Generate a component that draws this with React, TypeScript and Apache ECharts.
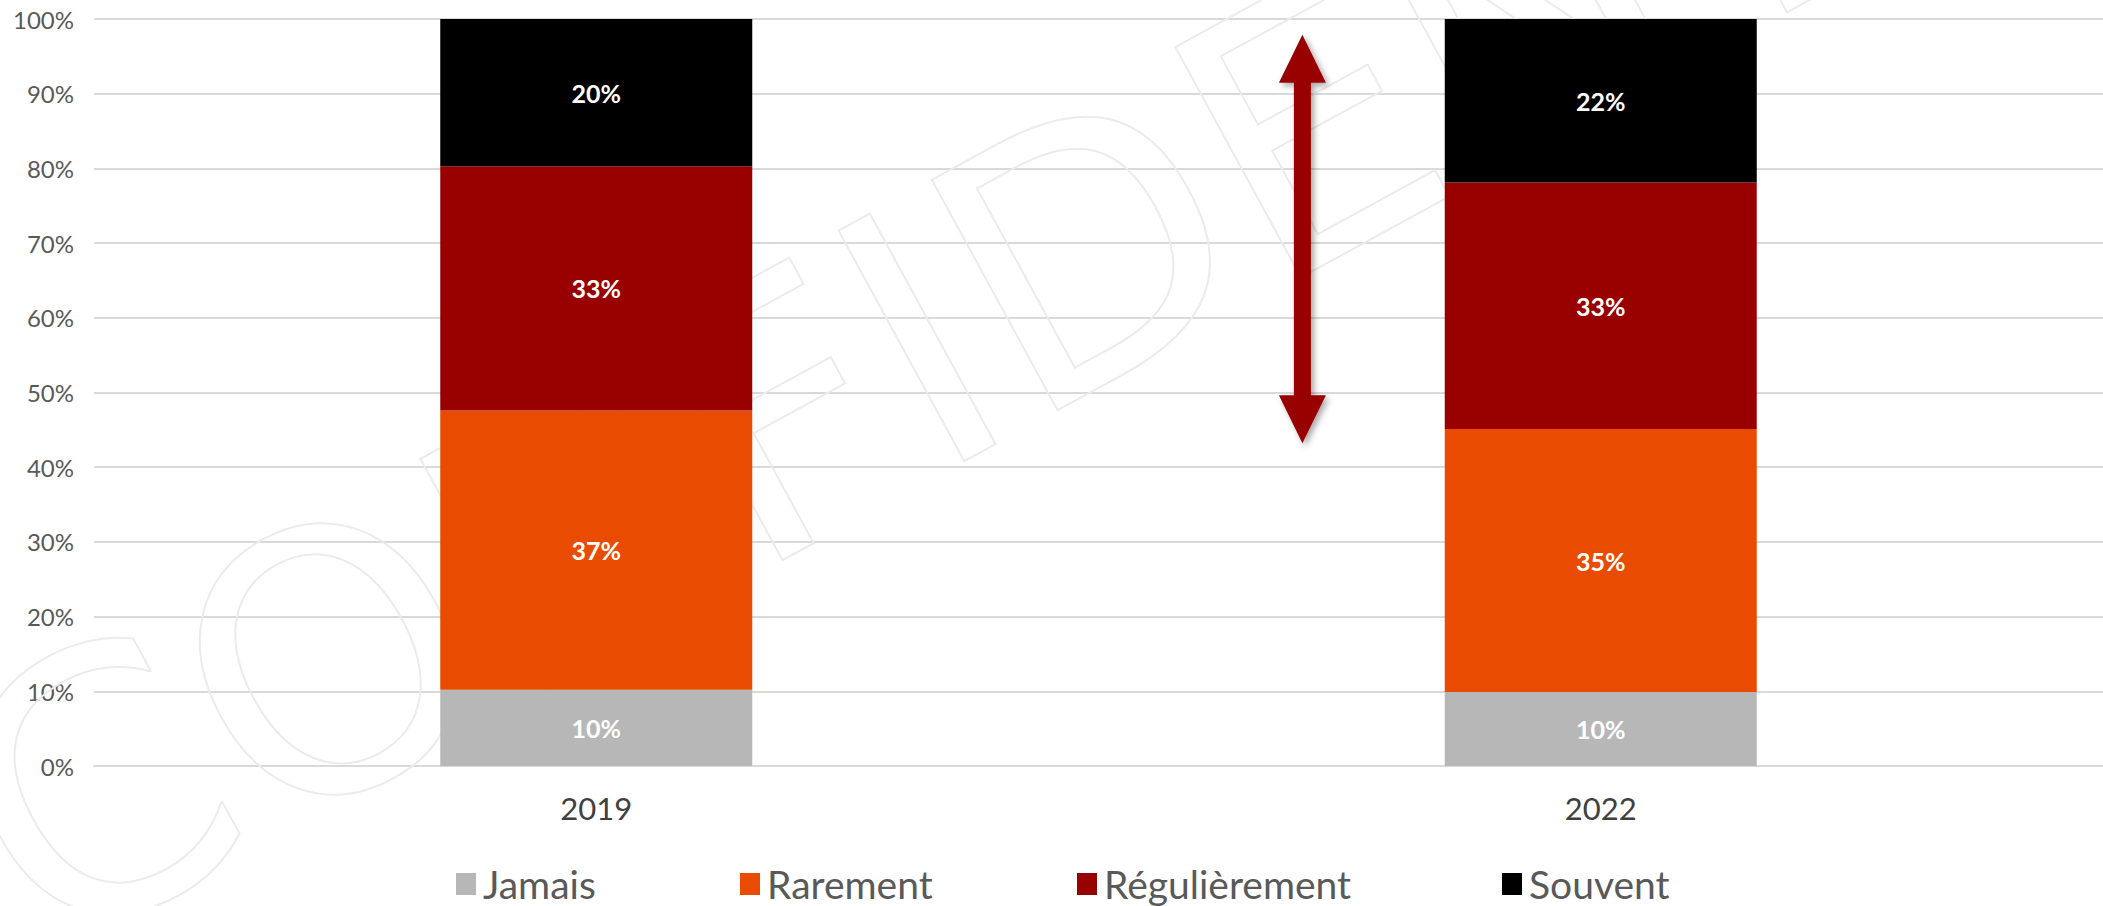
import React, { useEffect, useRef } from "react";
import * as echarts from "echarts";

const categories = ["2019", "2022"];
const seriesNames = ["Jamais", "Rarement", "Régulièrement", "Souvent"];
const jamais = [10.2, 9.9];
const rarement = [37.4, 35.2];
const regulierement = [32.7, 33.0];
const souvent = [19.7, 21.9];
const seriesColors = ["#b7b7b7", "#e94c00", "#990000", "#000000"];
const yTicks = [0, 100, 10];
// arrow annotation endpoints (in % of the value axis)
const arrowTopValue = 97.9;
const arrowBottomValue = 43.2;

const FONT = "Lato, 'Noto Sans', sans-serif";

export default function App() {
  const ref = useRef<HTMLDivElement>(null);
  useEffect(() => {
    if (!ref.current) return;
    const chart = echarts.init(ref.current, undefined, { renderer: "svg" });
    const values = [jamais, rarement, regulierement, souvent];
    const legendLefts = [456, 740, 1077, 1502];
    const option: any = {
      animation: false,
      backgroundColor: "#ffffff",
      textStyle: { fontFamily: FONT },
      grid: { left: 94, right: 0, top: 19, height: 747, containLabel: false },
      legend: seriesNames.map((n, i) => ({
        data: [n],
        left: legendLefts[i],
        top: 864,
        padding: 0,
        itemWidth: 20,
        itemHeight: 22,
        icon: "rect",
        selectedMode: false,
        textStyle: {
          color: "#595959",
          fontSize: 39,
          lineHeight: 40,
          fontFamily: FONT,
          padding: [0, 0, 0, 2],
        },
      })),
      xAxis: {
        type: "category",
        data: categories,
        axisLine: { show: true, lineStyle: { color: "#d9d9d9", width: 2 } },
        axisTick: { show: false },
        axisLabel: { color: "#404040", fontSize: 31, margin: 26, fontFamily: FONT },
      },
      yAxis: {
        type: "value",
        min: yTicks[0],
        max: yTicks[1],
        interval: yTicks[2],
        axisLine: { show: false },
        axisTick: { show: false },
        splitLine: { lineStyle: { color: "#d9d9d9", width: 2 } },
        axisLabel: { color: "#595959", fontSize: 24, margin: 20, formatter: "{value}%", fontFamily: FONT },
      },
      series: seriesNames.map((n, i) => ({
        name: n,
        type: "bar",
        stack: "total",
        barWidth: 312,
        z: 3,
        itemStyle: { color: seriesColors[i] },
        label: {
          show: true,
          position: "inside",
          color: "#ffffff",
          fontWeight: "bold",
          fontSize: 25,
          fontFamily: FONT,
          formatter: (p: any) => Math.round(p.value) + "%",
        },
        data: values[i],
      })),
    };
    chart.setOption(option);

    const x0 = chart.convertToPixel({ xAxisIndex: 0 }, categories[0]) as number;
    const x1 = chart.convertToPixel({ xAxisIndex: 0 }, categories[1]) as number;
    const cx = x0 + 0.703 * (x1 - x0);
    const yTop = chart.convertToPixel({ yAxisIndex: 0 }, arrowTopValue) as number;
    const yBot = chart.convertToPixel({ yAxisIndex: 0 }, arrowBottomValue) as number;
    const hw = 23.5, sw = 8.5, hl = 48;
    chart.setOption({
      graphic: [
        {
          type: "text",
          z: 1,
          silent: true,
          x: -14,
          y: 853,
          rotation: 0.5,
          style: {
            text: "CONFIDENTIEL",
            fontSize: 360,
            fontFamily: "'DejaVu Sans', sans-serif",
            fill: "none",
            stroke: "#ebebeb",
            lineWidth: 2,
            textAlign: "left",
            textVerticalAlign: "middle",
          },
        },
        {
          type: "polygon",
          z: 10,
          silent: true,
          shape: {
            points: [
              [cx, yTop],
              [cx + hw, yTop + hl],
              [cx + sw, yTop + hl],
              [cx + sw, yBot - hl],
              [cx + hw, yBot - hl],
              [cx, yBot],
              [cx - hw, yBot - hl],
              [cx - sw, yBot - hl],
              [cx - sw, yTop + hl],
              [cx - hw, yTop + hl],
            ],
          },
          style: {
            fill: "#990000",
            shadowBlur: 6,
            shadowOffsetX: 3,
            shadowOffsetY: 3,
            shadowColor: "rgba(0,0,0,0.35)",
          },
        },
      ],
    });
    return () => chart.dispose();
  }, []);
  return (
    <div
      ref={ref}
      style={{ position: "fixed", left: 0, top: 0, width: 2103, height: 906 }}
    />
  );
}
